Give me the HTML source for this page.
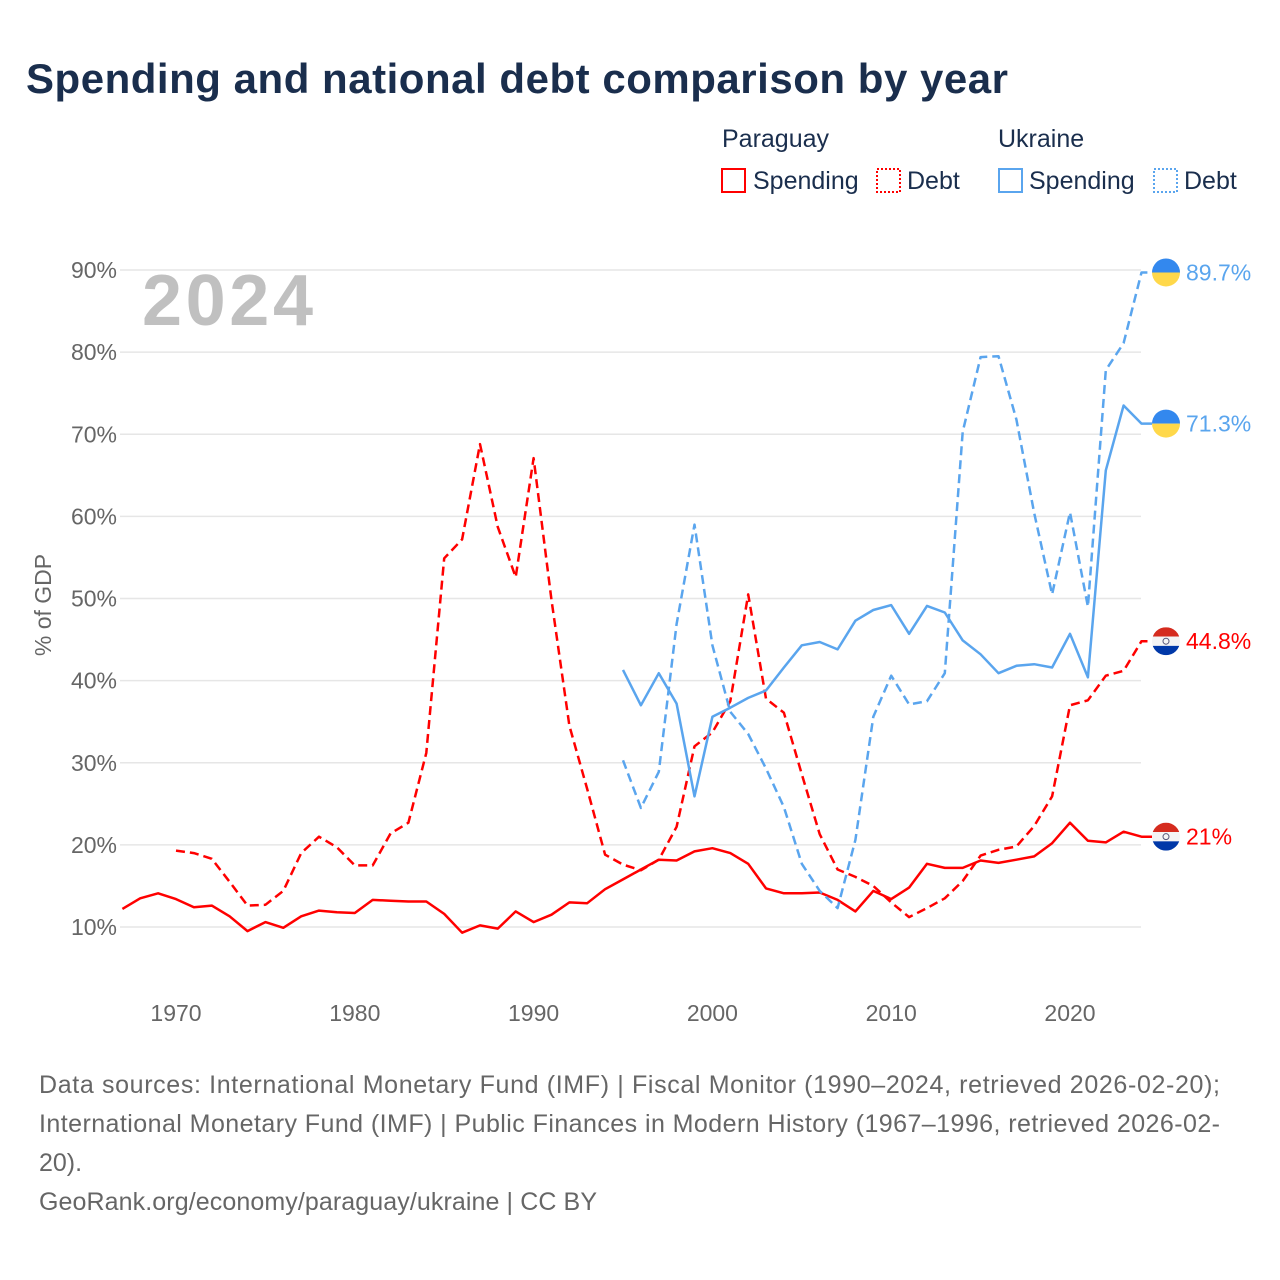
<!DOCTYPE html>
<html><head><meta charset="utf-8">
<style>
body{margin:0;background:#fff;font-family:"Liberation Sans","DejaVu Sans",sans-serif;}
#wrap{position:relative;width:1280px;height:1280px;overflow:hidden;}
</style></head>
<body>
<div id="wrap">
<svg id="chart" width="1280" height="1280" viewBox="0 0 1280 1280">
<text x="26" y="93" font-size="42" font-weight="bold" fill="#1a2e4d" textLength="982">Spending and national debt comparison by year</text>
<g font-size="25" fill="#1a2e4d">
<text x="722" y="147">Paraguay</text>
<text x="998" y="147">Ukraine</text>
<g><rect x="722" y="169" width="23" height="23" fill="none" stroke="#ff0000" stroke-width="2"/><text x="753" y="189">Spending</text></g>
<g><rect x="877" y="169" width="23" height="23" fill="none" stroke="#ff0000" stroke-width="2" stroke-dasharray="2,2"/><text x="907" y="189">Debt</text></g>
<g><rect x="999" y="169" width="23" height="23" fill="none" stroke="#5aa5ee" stroke-width="2"/><text x="1029" y="189">Spending</text></g>
<g><rect x="1154" y="169" width="23" height="23" fill="none" stroke="#5aa5ee" stroke-width="2" stroke-dasharray="2,2"/><text x="1184" y="189">Debt</text></g>
</g>
<g id="grid"></g>
<text x="142" y="325" font-size="72" font-weight="bold" fill="#c0c0c0" textLength="171">2024</text>
<text transform="translate(51,605) rotate(-90)" text-anchor="middle" font-size="23" fill="#666">% of GDP</text>
<g id="series"></g>
<g id="endlabels"></g>
<g font-size="25" fill="#666">
<text x="39" y="1093" textLength="1181">Data sources: International Monetary Fund (IMF) | Fiscal Monitor (1990–2024, retrieved 2026-02-20);</text>
<text x="39" y="1132" textLength="1181">International Monetary Fund (IMF) | Public Finances in Modern History (1967–1996, retrieved 2026-02-</text>
<text x="39" y="1171">20).</text>
<text x="39" y="1210" textLength="558">GeoRank.org/economy/paraguay/ukraine | CC BY</text>
</g>
</svg>
</div>
<script>
const yTicks=[10,20,30,40,50,60,70,80,90];
const xTicks=[1970,1980,1990,2000,2010,2020];
const pySpendStart=1967;
const pySpending=[12.2,13.5,14.1,13.4,12.4,12.6,11.3,9.5,10.6,9.9,11.3,12.0,11.8,11.7,13.3,13.2,13.1,13.1,11.6,9.3,10.2,9.8,11.9,10.6,11.5,13.0,12.9,14.6,15.8,17.0,18.2,18.1,19.2,19.6,19.0,17.7,14.7,14.1,14.1,14.2,13.3,11.9,14.4,13.4,14.8,17.7,17.2,17.2,18.1,17.8,18.2,18.6,20.2,22.7,20.5,20.3,21.6,21.0];
const pyDebtStart=1970;
const pyDebt=[19.3,19.0,18.3,15.5,12.6,12.7,14.4,19.0,21.0,19.7,17.5,17.5,21.4,22.7,31.2,54.9,57.2,68.8,58.7,52.6,67.1,49.8,34.5,26.8,18.8,17.6,16.9,18.2,22.2,32.0,33.7,37.5,50.5,37.8,36.1,28.6,21.3,17.0,16.1,15.0,13.0,11.2,12.3,13.5,15.6,18.7,19.4,19.8,22.3,25.9,37.0,37.6,40.6,41.2,44.8];
const uaStart=1995;
const uaSpending=[41.3,37.0,40.9,37.2,25.9,35.6,36.7,37.9,38.8,41.6,44.3,44.7,43.8,47.3,48.6,49.2,45.7,49.1,48.3,44.9,43.2,40.9,41.8,42.0,41.6,45.7,40.4,65.6,73.5,71.3];
const uaDebt=[30.3,24.5,28.9,46.9,59.0,44.3,36.2,33.5,29.3,24.6,17.7,14.4,12.3,20.6,35.6,40.6,37.1,37.5,40.9,70.3,79.4,79.5,71.8,60.4,50.5,60.5,49.0,77.8,81.1,89.7];

const NS='http://www.w3.org/2000/svg';
const X=yr=>176+(yr-1970)*17.88;
const Y=v=>927-(v-10)*8.2125;
function mk(t,a,p){const e=document.createElementNS(NS,t);for(const k in a)e.setAttribute(k,a[k]);p.appendChild(e);return e;}
const grid=document.getElementById('grid');
yTicks.forEach(t=>{
  const l=mk('line',{x1:120,x2:1141,y1:Y(t),y2:Y(t),stroke:'#e6e6e6','stroke-width':1.5},grid);
  
  
  const tx=mk('text',{x:117,y:Y(t)+8,'text-anchor':'end','font-size':23,fill:'#666'},grid);
  tx.textContent=t+'%';
  
  
});
xTicks.forEach(t=>{
  const tx=mk('text',{x:X(t),y:1021,'text-anchor':'middle','font-size':23,fill:'#666'},grid);
  tx.textContent=t;
  
  
});
const ser=document.getElementById('series');
function line(vals,start,color,dash,name){
  const pts=vals.map((v,i)=>X(start+i).toFixed(1)+','+Y(v).toFixed(1));
  const last=vals[vals.length-1];
  pts.push('1152,'+Y(last).toFixed(1));
  const p=mk('polyline',{points:pts.join(' '),fill:'none',stroke:color,'stroke-width':2.5,'stroke-linejoin':'round'},ser);
  if(dash)p.setAttribute('stroke-dasharray','9,5');
  
  
}
line(pySpending,pySpendStart,'#ff0000',false,'line-paraguay-spending');
line(pyDebt,pyDebtStart,'#ff0000',true,'line-paraguay-debt');
line(uaSpending,uaStart,'#5aa5ee',false,'line-ukraine-spending');
line(uaDebt,uaStart,'#5aa5ee',true,'line-ukraine-debt');

const el=document.getElementById('endlabels');
function flag(v,country,color,name){
  const cy=Y(v),cx=1166,r=14;
  const g=mk('g',{},el);
  
  
  if(country==='ua'){
    mk('path',{d:`M${cx-r},${cy} A${r},${r} 0 0 1 ${cx+r},${cy} Z`,fill:'#3388ee'},g);
    mk('path',{d:`M${cx-r},${cy} A${r},${r} 0 0 0 ${cx+r},${cy} Z`,fill:'#ffd84a'},g);
  } else {
    mk('clipPath',{id:'c'+name},g);
    const cp=g.lastChild; mk('circle',{cx:cx,cy:cy,r:r},cp);
    const gg=mk('g',{'clip-path':'url(#c'+name+')'},g);
    mk('rect',{x:cx-r,y:cy-r,width:2*r,height:r*2/3,fill:'#d52b1e'},gg);
    mk('rect',{x:cx-r,y:cy-r/3,width:2*r,height:r*2/3,fill:'#f4f4f4'},gg);
    mk('rect',{x:cx-r,y:cy+r/3,width:2*r,height:r*2/3,fill:'#0038a8'},gg);
    mk('circle',{cx:cx,cy:cy,r:3,fill:'none',stroke:'#557','stroke-width':1},gg);
  }
  const t=mk('text',{x:1186,y:cy+8,'font-size':23,fill:color},g);
  t.textContent=(Math.round(v*10)/10)+'%';
}
flag(uaDebt[uaDebt.length-1],'ua','#5aa5ee','end-label-ukraine-debt');
flag(uaSpending[uaSpending.length-1],'ua','#5aa5ee','end-label-ukraine-spending');
flag(pyDebt[pyDebt.length-1],'py','#ff0000','end-label-paraguay-debt');
flag(pySpending[pySpending.length-1],'py','#ff0000','end-label-paraguay-spending');
</script>
</body></html>
